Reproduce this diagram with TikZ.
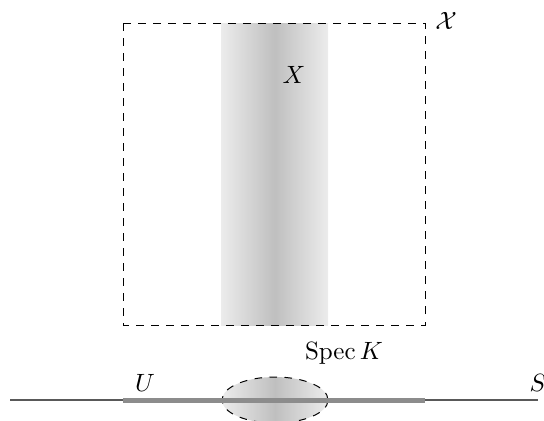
\documentclass[tikz,border=0pt]{standalone}
\usepackage{amsmath, amssymb}
\usepackage{tikz}
\usetikzlibrary{positioning}
\tikzset{
    frame/.style={draw, dashed},
    band/.style={left color=gray!15, right color=gray!15, middle color=gray!50},
    axisline/.style={draw=black!65, line width=0.5pt},
    openset/.style={draw=black!45, line width=2pt}
}

\begin{document}
\begin{tikzpicture}[x=0.4pt, y=-0.4pt]
            \useasboundingbox (0,0) rectangle (544,420);

            % the family over S
            \shade[band] (221,23) rectangle (328,325);
            \draw[frame] (123,23) rectangle (425,325);
            \node (X) at (294,75) {$X$};
            \node (calX) at (446,21) {$\mathcal{X}$};

            % the base S
            \coordinate (sL) at (10,400);
            \coordinate (sR) at (538,400);
            \coordinate (uL) at (123,400);
            \coordinate (uR) at (425,400);
            \shade[band, draw, dashed] (275,400) ellipse (21.2pt and 9.2pt);
            \draw[axisline] (sL) -- (sR);
            \draw[openset] (uL) -- (uR);
            \node (U) at (145,383) {$U$};
            \node (S) at (538,383) {$S$};
            \node (spec) at (344,353) {$\operatorname{Spec} K$};
        \end{tikzpicture}
\end{document}
